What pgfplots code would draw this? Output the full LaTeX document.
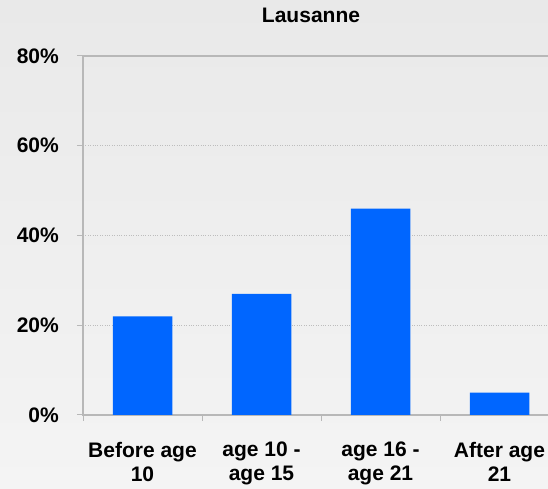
\documentclass[border=0pt]{standalone}
\usepackage{fontspec}
\setmainfont{Liberation Sans}
\usepackage{pgfplots}
\pgfplotsset{compat=1.18}
\definecolor{barblue}{HTML}{0066FF}
\definecolor{axgray}{HTML}{B8B8B8}
\definecolor{gridgray}{HTML}{BDBDBD}
\definecolor{bgtop}{HTML}{E9E9E9}
\definecolor{bgbot}{HTML}{F4F4F4}
\begin{document}
\begin{tikzpicture}[x=1pt,y=1pt]
\useasboundingbox (0,0) rectangle (548,489);
\fill[top color=bgtop, bottom color=bgbot] (0,0) rectangle (548,489);
\begin{scope}
\clip (0,0) rectangle (548,489);
\begin{axis}[
  at={(83pt,74pt)}, anchor=south west,
  scale only axis, width=476pt, height=359pt,
  xmin=0.5, xmax=4.5, ymin=0, ymax=80,
  ybar, bar width=59.5pt,
  xtick={0.5,1.5,2.5,3.5,4.5}, xticklabel=\empty,
  extra x ticks={1,2,3,4},
  extra x tick labels={{Before age\\10},{age 10 -\\age 15},{age 16 -\\age 21},{After age\\21}},
  extra x tick style={major tick length=0pt},
  ytick={0,20,40,60,80},
  yticklabel={\pgfmathprintnumber{\tick}\%},
  /pgf/number format/assume math mode=true,
  tick align=outside, xtick pos=lower, ytick pos=left,
  major tick length=6pt,
  axis line style={axgray, line width=1.3pt},
  every tick/.style={axgray, line width=1pt},
  ymajorgrids, grid style={gridgray, dotted, line width=0.7pt},
  ticklabel style={font=\fontsize{21}{24}\selectfont\bfseries, inner sep=0pt, text=black},
  xticklabel style={align=center, anchor=north, yshift=-27pt},
  yticklabel style={anchor=east, xshift=-18pt},
]
\addplot[fill=barblue, draw=none] coordinates {(1,22) (2,27) (3,46) (4,5)};
\end{axis}
\end{scope}
\node[font=\fontsize{21}{24}\selectfont\bfseries, inner sep=0pt] at (311,473.5) {Lausanne};
\end{tikzpicture}
\end{document}
